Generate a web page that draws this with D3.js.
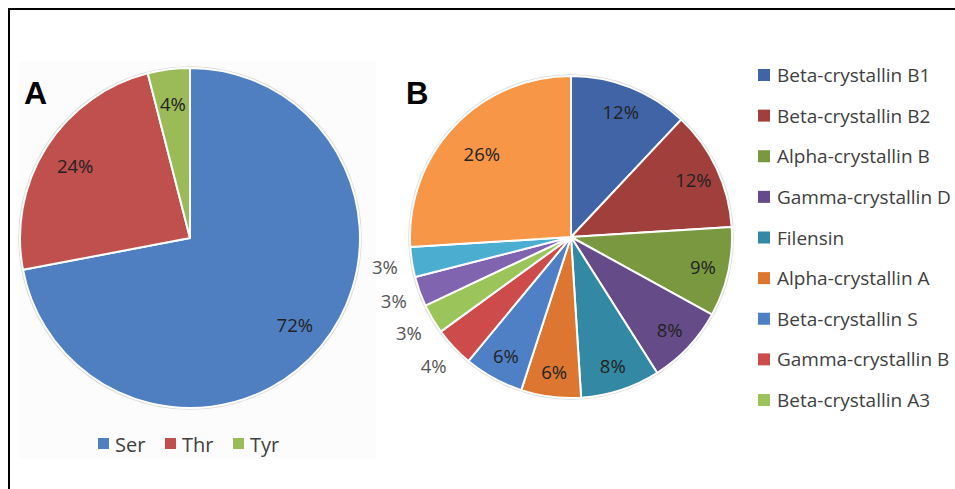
<!DOCTYPE html>
<html>
<head>
<meta charset="utf-8">
<script src="https://cdn.jsdelivr.net/npm/d3@7"></script>
<style>
  html, body { margin: 0; padding: 0; background: #fff; }
  svg { display: block; }
</style>
</head>
<body>
<svg id="chart" width="955" height="489"></svg>
<script>
// Panel A: phosphorylated residue types
const residues = ["Ser", "Thr", "Tyr"];
const residueShares = [72, 24, 4];
const residueColors = ["#4f7fc0", "#c0504d", "#9bbb59"];

// Panel B: phosphoproteins (clockwise from 12 o'clock)
const proteins = [
  "Beta-crystallin B1", "Beta-crystallin B2", "Alpha-crystallin B",
  "Gamma-crystallin D", "Filensin", "Alpha-crystallin A",
  "Beta-crystallin S", "Gamma-crystallin B", "Beta-crystallin A3",
  "Other 1", "Other 2", "Other 3"
];
const proteinShares = [12, 12, 9, 8, 8, 6, 6, 4, 3, 3, 3, 26];
const proteinColors = [
  "#4064a6", "#a13f3d", "#7a983f", "#654c88", "#3389a3", "#dc7630",
  "#4f80c6", "#cd4b4a", "#9bc45a", "#8064b0", "#4badd0", "#f79646"
];
// only the first nine proteins appear in the legend
const legendCount = 9;

const svg = d3.select("#chart");
const font = "'Open Sans', Lato, sans-serif";

// outer frame (top and left rules)
svg.append("line").attr("x1", 9).attr("x2", 955).attr("y1", 9).attr("y2", 9)
  .attr("stroke", "#000").attr("stroke-width", 2);
svg.append("line").attr("x1", 9).attr("x2", 9).attr("y1", 8).attr("y2", 489)
  .attr("stroke", "#000").attr("stroke-width", 2);

// faint backdrop of panel A
svg.append("rect").attr("x", 19).attr("y", 62).attr("width", 357).attr("height", 396)
  .attr("fill", "#fcfcfc");

const pie = d3.pie().sort(null).value(d => d);

function drawPie(cx, cy, r, values, colors, labelRadius) {
  const g = svg.append("g").attr("transform", `translate(${cx},${cy})`);
  const arcs = pie(values);
  const arc = d3.arc().innerRadius(0).outerRadius(r);
  g.append("circle").attr("r", r + 1).attr("fill", "none")
    .attr("stroke", "#d8d8d8").attr("stroke-width", 1.5);
  g.selectAll("path").data(arcs).join("path")
    .attr("d", arc)
    .attr("fill", (d, i) => colors[i])
    .attr("stroke", "#fff").attr("stroke-width", 2).attr("stroke-linejoin", "round");
  g.selectAll("text.pct").data(arcs).join("text")
    .attr("class", "pct")
    .each(function (d) {
      const share = d.value;
      const lr = labelRadius(share) * r;
      const a = (d.startAngle + d.endAngle) / 2;
      d3.select(this)
        .attr("x", Math.sin(a) * lr)
        .attr("y", -Math.cos(a) * lr)
        .attr("fill", labelRadius(share) > 1 ? "#555" : "#222");
    })
    .attr("text-anchor", "middle")
    .attr("dominant-baseline", "central")
    .attr("font-family", font)
    .attr("font-size", 18.5)
    .text(d => d.value + "%");
  return g;
}

drawPie(190, 238, 170, residueShares, residueColors, () => 0.8);
drawPie(571, 237, 161, proteinShares, proteinColors,
  s => s < 5 ? 1.17 : (s > 20 ? 0.76 : 0.84));

// panel letters
svg.append("text").attr("x", 24).attr("y", 104).text("A")
  .attr("font-family", "'Liberation Sans', Arial, sans-serif").attr("font-weight", "bold")
  .attr("font-size", 32).attr("fill", "#000");
svg.append("text").attr("x", 406).attr("y", 104).text("B")
  .attr("font-family", "'Liberation Sans', Arial, sans-serif").attr("font-weight", "bold")
  .attr("font-size", 31).attr("fill", "#000");

// legend A (horizontal, below the pie)
const legA = svg.append("g");
const legAX = [98, 165, 233];
residues.forEach((name, i) => {
  legA.append("rect").attr("x", legAX[i]).attr("y", 438).attr("width", 11).attr("height", 11)
    .attr("fill", residueColors[i]);
  legA.append("text").attr("x", legAX[i] + 17).attr("y", 444)
    .attr("dominant-baseline", "central")
    .attr("font-family", font).attr("font-size", 20).attr("fill", "#404040")
    .text(name);
});

// legend B (vertical, right of the pie)
const legY = d3.scaleLinear().domain([0, legendCount - 1]).range([75, 400]);
const legB = svg.append("g");
proteins.slice(0, legendCount).forEach((name, i) => {
  legB.append("rect").attr("x", 758).attr("y", legY(i) - 6).attr("width", 12).attr("height", 12)
    .attr("fill", proteinColors[i]);
  legB.append("text").attr("x", 777).attr("y", legY(i))
    .attr("dominant-baseline", "central")
    .attr("font-family", font).attr("font-size", 19).attr("fill", "#404040")
    .text(name);
});
</script>
</body>
</html>
